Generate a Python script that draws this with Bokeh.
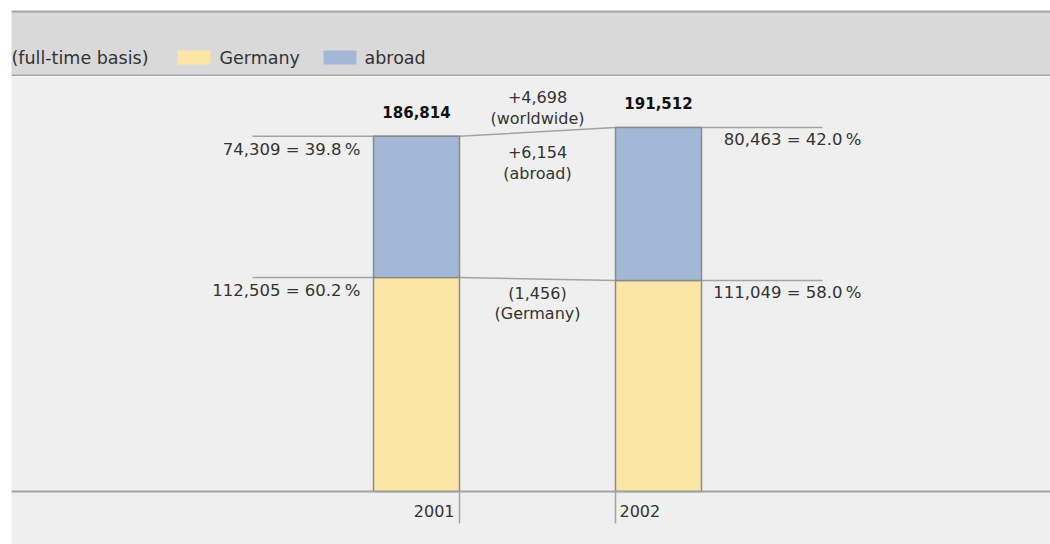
from bokeh.plotting import figure
from bokeh.layouts import column
from bokeh.models import Span, Range1d
from bokeh.core.properties import value
from bokeh.embed import file_html
from bokeh.resources import INLINE

# ---------------- data ----------------
years = ["2001", "2002"]
germany = [112505, 111049]
abroad = [74309, 80463]
legend_labels = ["Germany", "abroad"]
unit_note = "(full-time basis)"
change_names = ["(worldwide)", "(abroad)", "(Germany)"]

# ---------------- style ----------------
GER_COLOR = "#fce6a5"
ABR_COLOR = "#a3b8d6"
BAR_LINE = "#8a8a8a"
LINE = "#a3a3a3"
FONT = "DejaVu Sans"
TXT = "#333333"
FS = "16.5px"
FS_LEG = "17.5px"
FS_BOLD = "15px"

W = 1050
LEFT = 11
TOP = 10
HEAD_H = 76
MAIN_H = 544 - HEAD_H
PX = 526.0      # employees per pixel
UNIT = 242.0    # pixels per category step
X0 = 416 - LEFT # pixel position of the first category inside the frame
BASE_PX = 415   # baseline distance from the top of the main frame


def fmt(v):
    return f"{v:,}"


def pct(v, t):
    return f"{100 * v / t:.1f}\u2009%"


def diff(a, b):
    d = b - a
    return f"+{d:,}" if d >= 0 else f"({-d:,})"


totals = [g + a for g, a in zip(germany, abroad)]
xs = list(range(len(years)))
bw = 86 / UNIT
ext = 121 / UNIT

# ---------------- header band ----------------
h = figure(width=W, height=HEAD_H, output_backend="svg", toolbar_location=None,
           x_range=Range1d(0, W - LEFT), y_range=Range1d(0, HEAD_H - TOP),
           x_axis_location=None, y_axis_location=None,
           min_border_left=LEFT, min_border_top=TOP, min_border_right=0, min_border_bottom=0)
h.grid.visible = False
h.outline_line_color = None
h.background_fill_color = "#d9d9d9"
h.border_fill_color = "white"
h.add_layout(Span(location=HEAD_H - TOP - 1, dimension="width", line_color=LINE, line_width=2))
h.add_layout(Span(location=1, dimension="width", line_color=LINE, line_width=2))

h.text(x=[0], y=[19], text=[unit_note], text_font=value(FONT), text_font_size=FS_LEG,
       text_color=TXT, text_align="left", text_baseline="middle")
h.rect(x=[182.5, 328.5], y=[19, 19], width=33, height=14,
       fill_color=[GER_COLOR, ABR_COLOR], line_color=None)
h.text(x=[208, 353], y=[19, 19], text=legend_labels, text_font=value(FONT), text_font_size=FS_LEG,
       text_color=TXT, text_align="left", text_baseline="middle")

# ---------------- main chart ----------------
p = figure(width=W, height=MAIN_H, output_backend="svg", toolbar_location=None,
           x_range=Range1d(-X0 / UNIT, (W - LEFT - X0) / UNIT),
           y_range=Range1d(-(MAIN_H - BASE_PX) * PX, BASE_PX * PX),
           x_axis_location=None, y_axis_location=None,
           min_border_left=LEFT, min_border_top=0, min_border_right=0, min_border_bottom=0)
p.grid.visible = False
p.outline_line_color = None
p.background_fill_color = "#efefef"
p.border_fill_color = "white"

# baseline
p.add_layout(Span(location=0, dimension="width", line_color=LINE, line_width=2))

# connector lines
for series in (totals, germany):
    lx = [xs[0] - bw / 2 - ext, xs[0] + bw / 2, xs[1] - bw / 2, xs[1] + bw / 2 + ext]
    ly = [series[0], series[0], series[1], series[1]]
    p.line(lx, ly, line_color=LINE, line_width=1.5)

# bars
p.vbar(x=xs, bottom=0, top=germany, width=bw, fill_color=GER_COLOR,
       line_color=BAR_LINE, line_width=1.5)
p.vbar(x=xs, bottom=germany, top=totals, width=bw, fill_color=ABR_COLOR,
       line_color=BAR_LINE, line_width=1.5)

# category separators and year labels
p.segment(x0=[xs[0] + bw / 2, xs[1] - bw / 2], y0=[0, 0],
          x1=[xs[0] + bw / 2, xs[1] - bw / 2], y1=[-32 * PX, -32 * PX],
          line_color=LINE, line_width=1.5)
p.text(x=[xs[0] + bw / 2], y=[0], text=[years[0]], x_offset=-5, y_offset=19,
       text_font=value(FONT), text_font_size="16px", text_color=TXT,
       text_align="right", text_baseline="middle")
p.text(x=[xs[1] - bw / 2], y=[0], text=[years[1]], x_offset=4, y_offset=19,
       text_font=value(FONT), text_font_size="16px", text_color=TXT,
       text_align="left", text_baseline="middle")

# totals
p.text(x=xs, y=totals, text=[fmt(t) for t in totals], y_offset=-24,
       text_font=value(FONT), text_font_size=FS_BOLD, text_font_style="bold",
       text_color="#111111", text_align="center", text_baseline="middle")

# segment labels
p.text(x=[xs[0] - bw / 2] * 2, y=[totals[0], germany[0]],
       text=[f"{fmt(abroad[0])} = {pct(abroad[0], totals[0])}",
             f"{fmt(germany[0])} = {pct(germany[0], totals[0])}"],
       x_offset=-13, y_offset=13, text_font=value(FONT), text_font_size=FS,
       text_color=TXT, text_align="right", text_baseline="middle")
p.text(x=[xs[1] + bw / 2] * 2, y=[totals[1], germany[1]],
       text=[f"{fmt(abroad[1])} = {pct(abroad[1], totals[1])}",
             f"{fmt(germany[1])} = {pct(germany[1], totals[1])}"],
       x_offset=160, y_offset=12, text_font=value(FONT), text_font_size=FS,
       text_color=TXT, text_align="right", text_baseline="middle")

# changes between years
mid = (xs[0] + xs[1]) / 2
t_mid = (totals[0] + totals[1]) / 2
g_mid = (germany[0] + germany[1]) / 2
change_vals = [diff(totals[0], totals[1]), diff(abroad[0], abroad[1]), diff(germany[0], germany[1])]
anchors = [t_mid, t_mid, g_mid]
offs_val = [-35, 20, 15]
offs_name = [-13, 42, 35]
for v, n, a, o1, o2 in zip(change_vals, change_names, anchors, offs_val, offs_name):
    p.text(x=[mid], y=[a], text=[v], y_offset=o1, text_font=value(FONT), text_font_size="16px",
           text_color=TXT, text_align="center", text_baseline="middle")
    p.text(x=[mid], y=[a], text=[n], y_offset=o2, text_font=value(FONT), text_font_size="16px",
           text_color=TXT, text_align="center", text_baseline="middle")

layout = column(h, p, spacing=0)
open("out.html", "w").write(file_html(layout, INLINE))
